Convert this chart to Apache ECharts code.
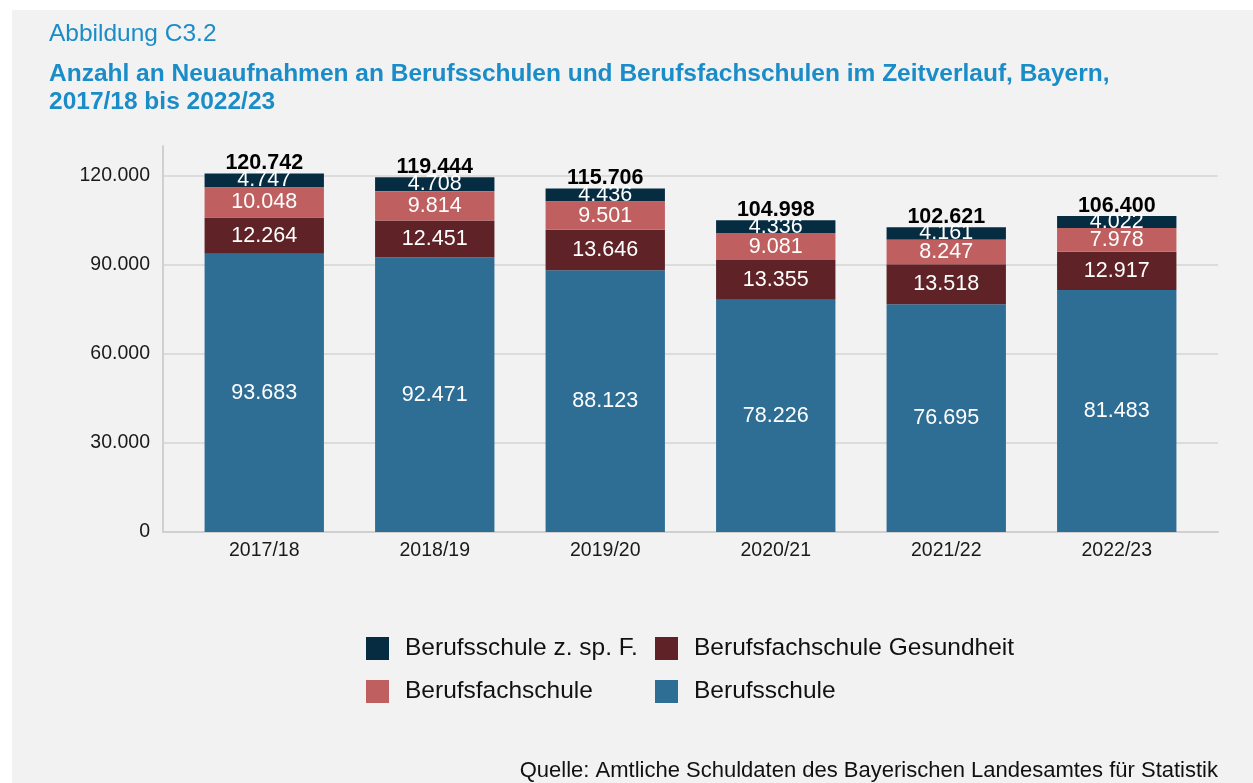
<!DOCTYPE html>
<html>
<head>
<meta charset="utf-8">
<script src="https://cdn.jsdelivr.net/npm/echarts@6/dist/echarts.min.js"></script>
<style>
    html, body { margin: 0; padding: 0; background: #ffffff; }
    #panel { position: absolute; left: 12px; top: 10px; width: 1241px; height: 773px; background: #f2f2f2; }
    #main { position: absolute; left: 0; top: 0; width: 1253px; height: 783px; }
</style>
</head>
<body>
<div id="panel"></div>
<div id="main"></div>
<script>
// Daten
var years = ['2017/18', '2018/19', '2019/20', '2020/21', '2021/22', '2022/23'];
var berufsschule = [93683, 92471, 88123, 78226, 76695, 81483];
var gesundheit = [12264, 12451, 13646, 13355, 13518, 12917];
var berufsfach = [10048, 9814, 9501, 9081, 8247, 7978];
var foerder = [4747, 4708, 4436, 4336, 4161, 4022];
var yTicks = [0, 30000, 60000, 90000, 120000];

var totals = years.map(function (y, i) {
    return berufsschule[i] + gesundheit[i] + berufsfach[i] + foerder[i];
});

function fmt(v) {
    return String(v).replace(/\B(?=(\d{3})+(?!\d))/g, '.');
}

var myChart = echarts.init(document.getElementById('main'));

var segLabel = {
    show: true,
    position: 'inside',
    color: '#ffffff',
    fontSize: 21.5,
    formatter: function (p) { return fmt(p.value); }
};

var option = {
    animation: false,
    textStyle: { fontFamily: 'Liberation Sans, Arial, sans-serif' },
    title: [
        {
            text: 'Abbildung C3.2',
            left: 49, top: 22, padding: 0,
            textStyle: { color: '#1a8cc8', fontSize: 24.5, fontWeight: 'normal' }
        },
        {
            text: 'Anzahl an Neuaufnahmen an Berufsschulen und Berufsfachschulen im Zeitverlauf, Bayern,\n2017/18 bis 2022/23',
            left: 49, top: 60, padding: 0,
            textStyle: { color: '#1a8cc8', fontSize: 24.5, fontWeight: 'bold', lineHeight: 28 }
        },
        {
            text: 'Quelle: Amtliche Schuldaten des Bayerischen Landesamtes für Statistik',
            right: 35, top: 760, padding: 0,
            textStyle: { color: '#111111', fontSize: 22, fontWeight: 'normal' }
        }
    ],
    legend: [
        {
            data: ['Berufsschule z. sp. F.', 'Berufsfachschule'],
            orient: 'vertical',
            left: 366, top: 636, padding: 0,
            itemWidth: 23, itemHeight: 23, itemGap: 18,
            icon: 'rect',
            textStyle: { fontSize: 24.5, color: '#111111', padding: [0, 0, 0, 11] }
        },
        {
            data: ['Berufsfachschule Gesundheit', 'Berufsschule'],
            orient: 'vertical',
            left: 655, top: 636, padding: 0,
            itemWidth: 23, itemHeight: 23, itemGap: 18,
            icon: 'rect',
            textStyle: { fontSize: 24.5, color: '#111111', padding: [0, 0, 0, 11] }
        }
    ],
    grid: [
        { left: 163, right: 35, top: 146, bottom: 251 },
        { left: 179, right: 51, top: 146, bottom: 251 }
    ],
    xAxis: [
        {
            type: 'value', gridIndex: 0, min: 0, max: 1,
            axisLine: { show: true, lineStyle: { color: '#d0d0d0', width: 2 } },
            axisTick: { show: false },
            axisLabel: { show: false },
            splitLine: { show: false }
        },
        {
            type: 'category', gridIndex: 1, data: years,
            axisLine: { show: false },
            axisTick: { show: false },
            axisLabel: { color: '#1a1a1a', fontSize: 19.5, margin: 9 }
        }
    ],
    yAxis: [
        {
            type: 'value', gridIndex: 0, min: 0, max: 130000, interval: 30000,
            axisLine: { show: true, lineStyle: { color: '#d0d0d0', width: 2 } },
            axisTick: { show: false },
            axisLabel: {
                color: '#1a1a1a', fontSize: 19.5, margin: 13, showMaxLabel: false,
                formatter: function (v) { return yTicks.indexOf(v) >= 0 ? fmt(v) : ''; }
            },
            splitLine: { show: true, showMinLine: false, showMaxLine: false, lineStyle: { color: '#d4d4d4', width: 1.5 } }
        },
        {
            type: 'value', gridIndex: 1, min: 0, max: 130000, show: false
        }
    ],
    series: [
        {
            name: 'Berufsschule', type: 'bar', stack: 'a', xAxisIndex: 1, yAxisIndex: 1,
            barWidth: '70%', z: 2,
            itemStyle: { color: '#2e6e95' },
            label: segLabel,
            data: berufsschule
        },
        {
            name: 'Berufsfachschule Gesundheit', type: 'bar', stack: 'a', xAxisIndex: 1, yAxisIndex: 1,
            z: 2,
            itemStyle: { color: '#5f2226' },
            label: segLabel,
            data: gesundheit
        },
        {
            name: 'Berufsfachschule', type: 'bar', stack: 'a', xAxisIndex: 1, yAxisIndex: 1,
            z: 4,
            itemStyle: { color: '#c05f60' },
            label: segLabel,
            data: berufsfach
        },
        {
            name: 'Berufsschule z. sp. F.', type: 'bar', stack: 'a', xAxisIndex: 1, yAxisIndex: 1,
            z: 3,
            itemStyle: { color: '#062c42' },
            label: segLabel,
            data: foerder
        },
        {
            name: 'Summe', type: 'bar', stack: 'a', xAxisIndex: 1, yAxisIndex: 1,
            z: 5,
            itemStyle: { color: 'transparent' },
            label: {
                show: true, position: 'top', distance: -1,
                color: '#000000', fontSize: 21.5, fontWeight: 'bold',
                formatter: function (p) { return fmt(totals[p.dataIndex]); }
            },
            data: totals.map(function () { return 0; })
        }
    ]
};

myChart.setOption(option);
</script>
</body>
</html>
